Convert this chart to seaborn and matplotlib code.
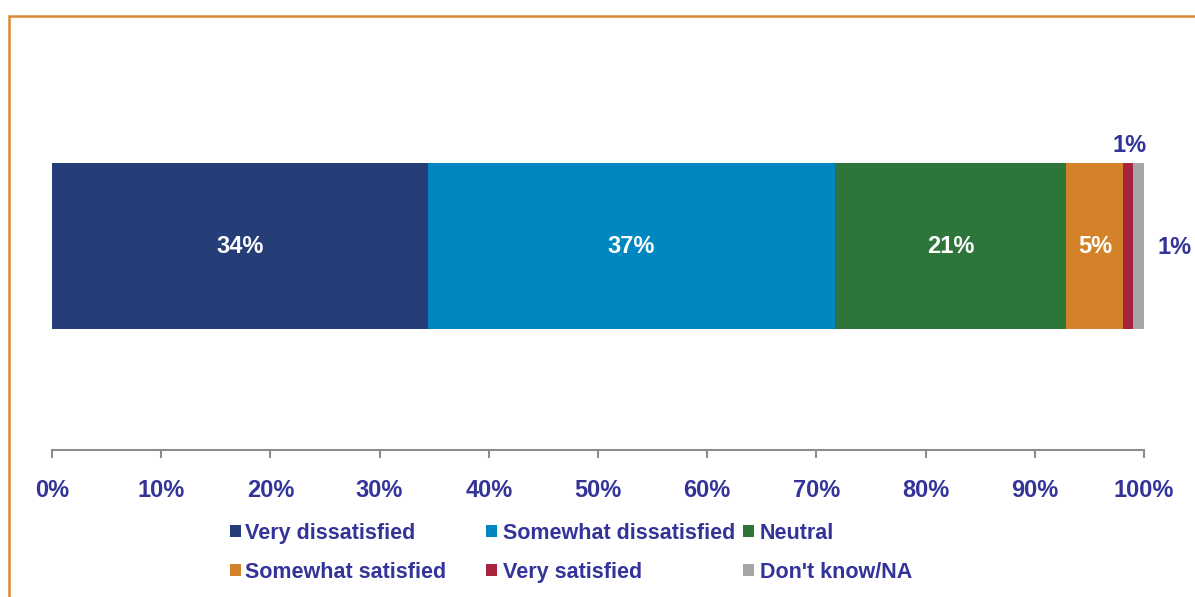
import matplotlib
matplotlib.use("Agg")
import matplotlib.pyplot as plt
from matplotlib.patches import Rectangle
import numpy as np
import pandas as pd
import seaborn as sns

# Survey response shares (percent of respondents)
categories = ["Very dissatisfied", "Somewhat dissatisfied", "Neutral",
              "Somewhat satisfied", "Very satisfied", "Don't know/NA"]
shares = [34.4, 37.3, 21.2, 5.2, 0.9, 1.0]
colors = ["#253E77", "#0087C1", "#2E753A", "#D48229", "#A8233E", "#A6A6A6"]
x_ticks = [0, 10, 20, 30, 40, 50, 60, 70, 80, 90, 100]

TEXT_BLUE = "#333399"
FONT = "Liberation Sans"

W, H = 1195, 597
fig = plt.figure(figsize=(W / 100, H / 100), dpi=100)
fig.patch.set_facecolor("white")

def fx(px):
    return px / W

def fy(py):
    return 1 - py / H

ax = fig.add_axes([fx(52), fy(450), fx(1144) - fx(52), (450 - 40) / H])

# Stacked bar: cumulative ends drawn back to front so each segment shows
ends = np.cumsum(shares)
starts = ends - np.array(shares)
df = pd.DataFrame({"group": ["All"] * len(categories),
                   "category": categories,
                   "end": ends})
sns.barplot(data=df, x="end", y="group", hue="category",
            hue_order=categories[::-1], palette=dict(zip(categories, colors)),
            dodge=False, width=0.8, saturation=1, legend=False, ax=ax,
            edgecolor="none", linewidth=0)

ax.set_xlim(0, 100)
ax.set_ylim(0.983, -0.993)
ax.set_xticks(x_ticks)
ax.set_xticklabels([f"{t}%" for t in x_ticks])
ax.set_xlabel("")
ax.set_ylabel("")
ax.set_yticks([])
for side in ["top", "right", "left"]:
    ax.spines[side].set_visible(False)
ax.spines["bottom"].set_color("#8C8C8C")
ax.spines["bottom"].set_linewidth(1.5)
ax.tick_params(axis="x", direction="out", length=6, width=1.5, color="#8C8C8C",
               pad=15, labelsize=17, labelcolor=TEXT_BLUE)
for lbl in ax.get_xticklabels():
    lbl.set_fontfamily(FONT)
    lbl.set_fontweight("bold")
ax.set_facecolor("none")

# Value labels
for i, (s, e, v) in enumerate(zip(starts, ends, shares)):
    label = f"{v:.0f}%"
    mid = (s + e) / 2
    if i < 4:
        ax.text(mid, 0, label, ha="center", va="center", color="white",
                fontsize=17, fontweight="bold", fontfamily=FONT)
    elif i == 4:
        ax.annotate(label, xy=(mid, -0.4), xytext=(1, 4), textcoords="offset points",
                    ha="center", va="bottom", color=TEXT_BLUE,
                    fontsize=17, fontweight="bold", fontfamily=FONT)
    else:
        ax.annotate(label, xy=(e, 0), xytext=(10, -1), textcoords="offset points",
                    ha="left", va="center", color=TEXT_BLUE,
                    fontsize=17, fontweight="bold", fontfamily=FONT)

# Legend laid out in two rows of three
col_marker = [230, 486, 743]
col_text = [245, 503, 760]
row_base = [539, 578]
for k, (cat, col) in enumerate(zip(categories, colors)):
    r, c = divmod(k, 3)
    base = row_base[r]
    fig.patches.append(Rectangle((fx(col_marker[c]), fy(base - 2)), 11 / W, 12 / H,
                                 transform=fig.transFigure, facecolor=col,
                                 edgecolor="none"))
    fig.text(fx(col_text[c]), fy(base), cat, ha="left", va="baseline",
             color=TEXT_BLUE, fontsize=15.5, fontweight="bold", fontfamily=FONT)

# Orange frame around the chart area
fig.patches.append(Rectangle((fx(8.5), -0.1), 1.2, fy(15.5) + 0.1,
                             transform=fig.transFigure, facecolor="none",
                             edgecolor="#DA8A33", linewidth=1.8))

fig.savefig("out.png", dpi=100, facecolor="white")
